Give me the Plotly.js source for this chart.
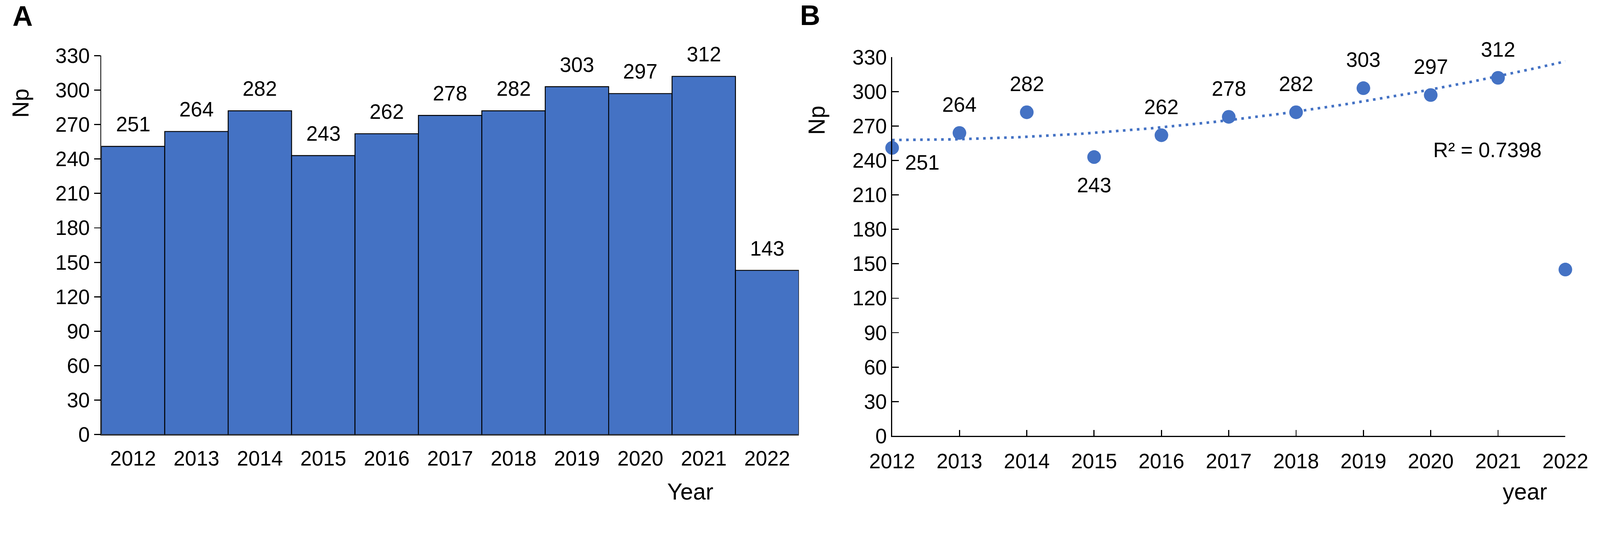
<!DOCTYPE html>
<html>
<head>
<meta charset="utf-8">
<script src="https://cdn.plot.ly/plotly-3.0.1.min.js"></script>
<style>html,body{margin:0;padding:0;background:#fff;overflow:hidden;}</style>
</head>
<body>
<div id="chart"></div>
<script>
// ---- data ----
const years = ['2012','2013','2014','2015','2016','2017','2018','2019','2020','2021','2022'];
const yearNums = [2012,2013,2014,2015,2016,2017,2018,2019,2020,2021,2022];
const np = [251,264,282,243,262,278,282,303,297,312,143];          // panel A bars
const npScatter = [251,264,282,243,262,278,282,303,297,312,145];   // panel B points
const yTicks = [0,30,60,90,120,150,180,210,240,270,300,330];
const r2Text = 'R\u00b2 = 0.7398';
// which points in B carry a label and where (style only)
const bLabelSide = ['rightBelow','above','above','below','above','above','above','above','above','above','none'];
const fitCount = 10; // trendline fitted on 2012-2021

// ---- quadratic least squares trendline from the data ----
function quadFit(xs, ys){
  const n = xs.length;
  let s = [0,0,0,0,0], t = [0,0,0];
  for (let i=0;i<n;i++){
    const x = xs[i], y = ys[i];
    for (let k=0;k<5;k++) s[k] += Math.pow(x,k);
    for (let k=0;k<3;k++) t[k] += Math.pow(x,k)*y;
  }
  const M = [[s[0],s[1],s[2],t[0]],[s[1],s[2],s[3],t[1]],[s[2],s[3],s[4],t[2]]];
  for (let c=0;c<3;c++){
    let p=c; for(let r=c+1;r<3;r++) if(Math.abs(M[r][c])>Math.abs(M[p][c])) p=r;
    [M[c],M[p]]=[M[p],M[c]];
    for(let r=0;r<3;r++){ if(r===c) continue; const f=M[r][c]/M[c][c]; for(let k=c;k<4;k++) M[r][k]-=f*M[c][k]; }
  }
  return [M[0][3]/M[0][0], M[1][3]/M[1][1], M[2][3]/M[2][2]];
}
const x0 = yearNums[0];
const coef = quadFit(yearNums.slice(0,fitCount).map(v=>v-x0), npScatter.slice(0,fitCount));
const trendX = [], trendY = [];
for (let i=0;i<=200;i++){
  const xv = yearNums[0] + (yearNums[yearNums.length-1]-yearNums[0])*i/200;
  const d = xv - x0;
  trendX.push(xv); trendY.push(coef[0]+coef[1]*d+coef[2]*d*d);
}

// ---- styling (designed for 4342x1384, scaled to the actual viewport width) ----
const BW = 4342, BH = 1384;
const W = window.innerWidth || BW;
const k = W / BW;
const H = Math.round(BH * k);
const s = v => v * k;
const el = document.getElementById('chart');
el.style.width = W + 'px'; el.style.height = H + 'px';
const FONT = 'Liberation Sans, Arial, sans-serif';
const BLUE = '#4472C4';
const CLEAR = 'rgba(0,0,0,0)';
const px = v => v / BW, py = v => 1 - v / BH;

const traces = [
  {type:'bar', x: years.map((_,i)=>i), y: np, xaxis:'x', yaxis:'y', width:1,
   marker:{color:BLUE, line:{color:'#000', width:s(2.5)}}, hoverinfo:'none'},
  {type:'scatter', mode:'lines', x: trendX, y: trendY, xaxis:'x2', yaxis:'y2',
   line:{color:BLUE, width:s(7), dash: s(7)+'px,'+s(12)+'px'}, hoverinfo:'none', cliponaxis:false},
  {type:'scatter', mode:'markers', x: yearNums, y: npScatter, xaxis:'x2', yaxis:'y2',
   marker:{color:BLUE, size:s(37)}, hoverinfo:'none', cliponaxis:false},
  // empty trace so the overlay axis carrying the inside ticks of panel B is drawn
  {type:'scatter', mode:'markers', x: [], y: [], xaxis:'x3', yaxis:'y2', hoverinfo:'none', showlegend:false}
];

const annotations = [];
// bar labels
years.forEach((yr,i)=>{
  annotations.push({xref:'x', yref:'y', x: i, y: np[i], text: String(np[i]), showarrow:false,
    xanchor:'center', yanchor:'middle', yshift: s(60), font:{family:FONT, size:s(56), color:'#000'}});
});
// scatter labels
yearNums.forEach((yr,i)=>{
  const side = bLabelSide[i];
  if (side === 'none') return;
  let xs = 0, ys = 0;
  if (side === 'above') ys = 77;
  else if (side === 'below') ys = -76;
  else if (side === 'rightBelow') { xs = 82; ys = -40; }
  annotations.push({xref:'x2', yref:'y2', x: yr, y: npScatter[i], text: String(npScatter[i]), showarrow:false,
    xanchor:'center', yanchor:'middle', xshift: s(xs), yshift: s(ys), font:{family:FONT, size:s(56), color:'#000'}});
});
// text annotations (titles, panel letters, R²)
const txt = (text, x, y, size, opts={}) => Object.assign({xref:'paper', yref:'paper', x: px(x), y: py(y), text,
  showarrow:false, xanchor:'center', yanchor:'middle', font:{family:FONT, size:s(size), color:'#000'}}, opts);
annotations.push(txt('<b>A</b>', 61, 43, 76));
annotations.push(txt('<b>B</b>', 2199, 41, 76));
annotations.push(txt('Np', 55, 279, 62, {textangle:-90}));
annotations.push(txt('Np', 2216, 326, 62, {textangle:-90}));
annotations.push(txt('Year', 1873, 1333, 62));
annotations.push(txt('year', 4138, 1333, 62));
annotations.push(txt(r2Text, 4036, 406, 56));

const axisCommon = () => ({showgrid:false, zeroline:false, showline:true, linecolor:'#000', linewidth:s(3),
  tickcolor:'#000', tickwidth:s(3), tickfont:{family:FONT, size:s(56), color:'#000'}, fixedrange:true});
const xRangeB = [yearNums[0], yearNums[yearNums.length-1]];

const layout = {
  width: W, height: H, margin:{l:0,r:0,t:0,b:0}, paper_bgcolor:'#fff', plot_bgcolor:'rgba(0,0,0,0)',
  showlegend:false, bargap:0,
  xaxis: Object.assign(axisCommon(), {domain:[px(275), px(2168)], anchor:'y', type:'linear',
    range:[-0.5, years.length-0.5], tickmode:'array', tickvals: years.map((_,i)=>i), ticktext: years,
    ticks:'outside', ticklen:s(14), tickcolor:CLEAR}),
  yaxis: Object.assign(axisCommon(), {domain:[1-1178/BH, 1-151/BH], anchor:'x', range:[0,330],
    tickmode:'array', tickvals:yTicks, ticks:'outside', ticklen:s(17), ticklabelstandoff: s(30)}),
  xaxis2: Object.assign(axisCommon(), {domain:[px(2421), px(4248)], anchor:'y2', range:xRangeB,
    tickmode:'array', tickvals:yearNums, ticktext:years, ticks:'outside', ticklen:s(17), tickcolor:CLEAR}),
  xaxis3: {overlaying:'x2', anchor:'y2', range:xRangeB, showgrid:false, zeroline:false, showline:false,
    showticklabels:false, tickmode:'array', tickvals:yearNums, ticks:'inside', ticklen:s(16), tickwidth:s(3),
    tickcolor:'#000', fixedrange:true},
  yaxis2: Object.assign(axisCommon(), {domain:[1-1182/BH, 1-155/BH], anchor:'x2', range:[0,330],
    tickmode:'array', tickvals:yTicks, ticks:'inside', ticklen:s(18), ticklabelstandoff: s(46)}),
  annotations
};

Plotly.newPlot('chart', traces, layout, {staticPlot:true, displayModeBar:false});
</script>
</body>
</html>
